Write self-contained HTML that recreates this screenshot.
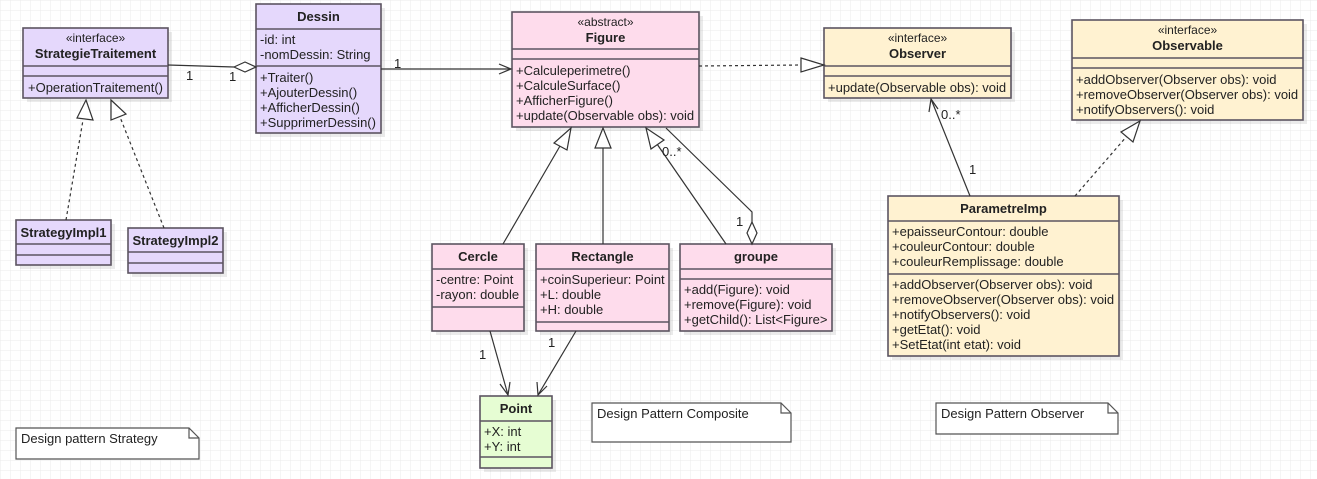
<!DOCTYPE html>
<html><head><meta charset="utf-8"><style>
html,body{margin:0;padding:0;background:#fff;}
svg{display:block;font-family:"Liberation Sans",sans-serif;}
text{font-size:13px;fill:#222;}
.b{font-weight:bold;}
.st{font-size:12px;}
.box{stroke:#5c5461;stroke-width:1.6;}
.ln{stroke:#333;stroke-width:1.2;fill:none;}
.sh{fill:#000;opacity:0.08;}
</style></head><body>
<svg width="1317" height="479" viewBox="0 0 1317 479" xmlns="http://www.w3.org/2000/svg">
<defs>
<pattern id="g" width="10" height="10" patternUnits="userSpaceOnUse">
<path d="M10 0H0V10" fill="none" stroke="#ebebeb" stroke-width="1"/>
</pattern>
</defs>
<rect width="1317" height="479" fill="url(#g)"/>

<g class="sh">
<rect x="27" y="32" width="145" height="70"/>
<rect x="260" y="8" width="125" height="129"/>
<rect x="20" y="224" width="95" height="45"/>
<rect x="132" y="232" width="95" height="45"/>
<rect x="516" y="16" width="187" height="115"/>
<rect x="828" y="32" width="187" height="70"/>
<rect x="1076" y="24" width="231" height="100"/>
<rect x="436" y="248" width="92" height="87"/>
<rect x="540" y="248" width="133" height="87"/>
<rect x="684" y="248" width="152" height="87"/>
<rect x="892" y="200" width="231" height="160"/>
<rect x="484" y="400" width="72" height="72"/>
</g>

<rect class="box" x="23" y="28" width="145" height="70" fill="#e5d8fc"/>
<line class="box" x1="23" y1="66" x2="168" y2="66"/><line class="box" x1="23" y1="76" x2="168" y2="76"/>
<text x="95.5" y="42" text-anchor="middle" class="st">«interface»</text>
<text x="95.5" y="58" text-anchor="middle" class="b">StrategieTraitement</text>
<text x="28" y="92">+OperationTraitement()</text>

<rect class="box" x="256" y="4" width="125" height="129" fill="#e5d8fc"/>
<line class="box" x1="256" y1="29" x2="381" y2="29"/><line class="box" x1="256" y1="66" x2="381" y2="66"/>
<text x="318.5" y="21" text-anchor="middle" class="b">Dessin</text>
<text x="260" y="44">-id: int</text><text x="260" y="59">-nomDessin: String</text>
<text x="260" y="82">+Traiter()</text><text x="260" y="97">+AjouterDessin()</text>
<text x="260" y="112">+AfficherDessin()</text><text x="260" y="127">+SupprimerDessin()</text>

<rect class="box" x="16" y="220" width="95" height="45" fill="#e5d8fc"/>
<line class="box" x1="16" y1="244" x2="111" y2="244"/><line class="box" x1="16" y1="255" x2="111" y2="255"/>
<text x="63.5" y="237" text-anchor="middle" class="b">StrategyImpl1</text>
<rect class="box" x="128" y="228" width="95" height="45" fill="#e5d8fc"/>
<line class="box" x1="128" y1="252" x2="223" y2="252"/><line class="box" x1="128" y1="263" x2="223" y2="263"/>
<text x="175.5" y="245" text-anchor="middle" class="b">StrategyImpl2</text>

<rect class="box" x="512" y="12" width="187" height="115" fill="#fedcec"/>
<line class="box" x1="512" y1="49" x2="699" y2="49"/><line class="box" x1="512" y1="59" x2="699" y2="59"/>
<text x="605.5" y="26" text-anchor="middle" class="st">«abstract»</text>
<text x="605.5" y="42" text-anchor="middle" class="b">Figure</text>
<text x="516" y="75">+Calculeperimetre()</text><text x="516" y="90">+CalculeSurface()</text>
<text x="516" y="105">+AfficherFigure()</text><text x="516" y="120">+update(Observable obs): void</text>

<rect class="box" x="824" y="28" width="187" height="70" fill="#fff2d1"/>
<line class="box" x1="824" y1="66" x2="1011" y2="66"/><line class="box" x1="824" y1="76" x2="1011" y2="76"/>
<text x="917.5" y="42" text-anchor="middle" class="st">«interface»</text>
<text x="917.5" y="58" text-anchor="middle" class="b">Observer</text>
<text x="828" y="92">+update(Observable obs): void</text>

<rect class="box" x="1072" y="20" width="231" height="100" fill="#fff2d1"/>
<line class="box" x1="1072" y1="58" x2="1303" y2="58"/><line class="box" x1="1072" y1="68" x2="1303" y2="68"/>
<text x="1187.5" y="34" text-anchor="middle" class="st">«interface»</text>
<text x="1187.5" y="50" text-anchor="middle" class="b">Observable</text>
<text x="1076" y="84">+addObserver(Observer obs): void</text>
<text x="1076" y="99">+removeObserver(Observer obs): void</text>
<text x="1076" y="114">+notifyObservers(): void</text>

<rect class="box" x="432" y="244" width="92" height="87" fill="#fedcec"/>
<line class="box" x1="432" y1="269" x2="524" y2="269"/><line class="box" x1="432" y1="307" x2="524" y2="307"/>
<text x="478" y="261" text-anchor="middle" class="b">Cercle</text>
<text x="436" y="284">-centre: Point</text><text x="436" y="299">-rayon: double</text>

<rect class="box" x="536" y="244" width="133" height="87" fill="#fedcec"/>
<line class="box" x1="536" y1="269" x2="669" y2="269"/><line class="box" x1="536" y1="322" x2="669" y2="322"/>
<text x="602.5" y="261" text-anchor="middle" class="b">Rectangle</text>
<text x="540" y="284">+coinSuperieur: Point</text><text x="540" y="299">+L: double</text><text x="540" y="314">+H: double</text>

<rect class="box" x="680" y="244" width="152" height="87" fill="#fedcec"/>
<line class="box" x1="680" y1="269" x2="832" y2="269"/><line class="box" x1="680" y1="279" x2="832" y2="279"/>
<text x="756" y="261" text-anchor="middle" class="b">groupe</text>
<text x="684" y="294">+add(Figure): void</text><text x="684" y="309">+remove(Figure): void</text><text x="684" y="324">+getChild(): List&lt;Figure&gt;</text>

<rect class="box" x="888" y="196" width="231" height="160" fill="#fff2d1"/>
<line class="box" x1="888" y1="221" x2="1119" y2="221"/><line class="box" x1="888" y1="274" x2="1119" y2="274"/>
<text x="1003.5" y="213" text-anchor="middle" class="b">ParametreImp</text>
<text x="892" y="236">+epaisseurContour: double</text><text x="892" y="251">+couleurContour: double</text><text x="892" y="266">+couleurRemplissage: double</text>
<text x="892" y="289">+addObserver(Observer obs): void</text><text x="892" y="304">+removeObserver(Observer obs): void</text>
<text x="892" y="319">+notifyObservers(): void</text><text x="892" y="334">+getEtat(): void</text><text x="892" y="349">+SetEtat(int etat): void</text>

<rect class="box" x="480" y="396" width="72" height="72" fill="#e6fdd3"/>
<line class="box" x1="480" y1="421" x2="552" y2="421"/><line class="box" x1="480" y1="457" x2="552" y2="457"/>
<text x="516" y="413" text-anchor="middle" class="b">Point</text>
<text x="484" y="436">+X: int</text><text x="484" y="451">+Y: int</text>

<g fill="#fff" stroke="#555" stroke-width="1.2">
<path d="M16 428H189L199 438V459H16Z"/><path d="M189 428V438H199" fill="none"/>
<path d="M592 403H781L791 413V442H592Z"/><path d="M781 403V413H791" fill="none"/>
<path d="M936 403H1108L1118 413V434H936Z"/><path d="M1108 403V413H1118" fill="none"/>
</g>
<text x="21" y="443">Design pattern Strategy</text>
<text x="597" y="418">Design Pattern Composite</text>
<text x="941" y="418">Design Pattern Observer</text>

<line class="ln" x1="168" y1="65" x2="234" y2="67"/>
<path d="M234 67L245 62L256 67L245 72Z" fill="#fff" stroke="#333" stroke-width="1.2"/>
<text x="186" y="80">1</text><text x="229" y="81">1</text>
<line class="ln" x1="381" y1="69" x2="511" y2="69"/>
<path class="ln" d="M499 64L511 69L499 74"/>
<text x="394" y="68">1</text>
<line class="ln" x1="699" y1="66" x2="801" y2="65" stroke-dasharray="3,3"/>
<path d="M801 58L824 65L801 72Z" fill="#fff" stroke="#333" stroke-width="1.2"/>
<line class="ln" x1="66" y1="220" x2="83" y2="120" stroke-dasharray="3,3"/>
<path d="M86 100L93 120L77 118Z" fill="#fff" stroke="#333" stroke-width="1.2"/>
<line class="ln" x1="164" y1="228" x2="120" y2="117" stroke-dasharray="3,3"/>
<path d="M111 100L126 114L111 120Z" fill="#fff" stroke="#333" stroke-width="1.2"/>
<line class="ln" x1="503" y1="244" x2="560" y2="146"/>
<path d="M571 128L567 150L554 143Z" fill="#fff" stroke="#333" stroke-width="1.2"/>
<line class="ln" x1="603" y1="244" x2="603" y2="148"/>
<path d="M603 128L611 148L595 148Z" fill="#fff" stroke="#333" stroke-width="1.2"/>
<line class="ln" x1="726" y1="244" x2="657" y2="144"/>
<path d="M646 128L664 140L651 149Z" fill="#fff" stroke="#333" stroke-width="1.2"/>
<polyline class="ln" points="666,128 752,212 752,222"/>
<path d="M752 222L757 233L752 244L747 233Z" fill="#fff" stroke="#333" stroke-width="1.2"/>
<text x="662" y="156">0..*</text>
<text x="736" y="226">1</text>
<line class="ln" x1="490" y1="331" x2="508" y2="395"/>
<path class="ln" d="M500 384L508 395L510 382"/>
<text x="479" y="359">1</text>
<line class="ln" x1="576" y1="331" x2="538" y2="395"/>
<path class="ln" d="M537 382L538 395L547 386"/>
<text x="548" y="347">1</text>
<line class="ln" x1="970" y1="196" x2="931" y2="99"/>
<path class="ln" d="M929 112L931 99L938 109"/>
<text x="941" y="119">0..*</text><text x="969" y="174">1</text>
<line class="ln" x1="1075" y1="196" x2="1127" y2="136" stroke-dasharray="3,3"/>
<path d="M1140 121L1133 142L1121 132Z" fill="#fff" stroke="#333" stroke-width="1.2"/>
</svg>
</body></html>
